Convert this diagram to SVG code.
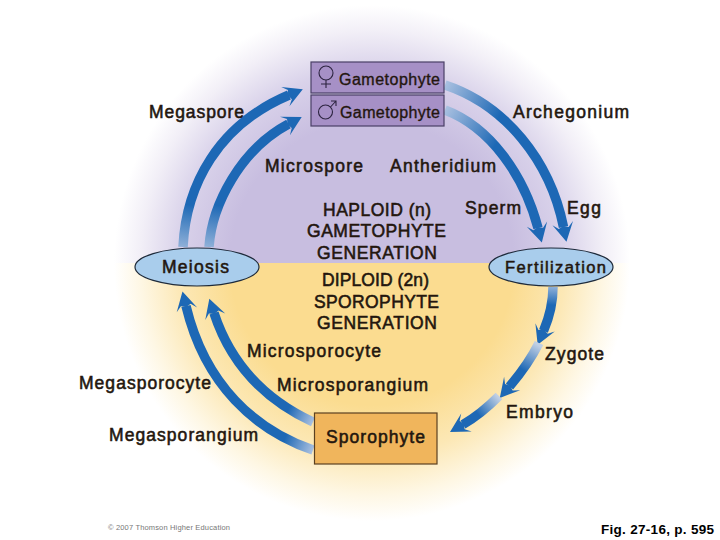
<svg xmlns="http://www.w3.org/2000/svg" width="720" height="540" viewBox="0 0 720 540">
<style>
text{font-family:"Liberation Sans",Arial,sans-serif;font-weight:normal;font-size:17.5px;fill:#23160e;stroke:#23160e;stroke-width:.55px}
.a{fill:none;stroke-width:9.5;marker-end:url(#head)}
.node{stroke:#1e2a3a;stroke-width:1.2;fill:#a9cdec}
.gbox{fill:#a690c6;stroke:#4a4066;stroke-width:1.2}
.sym{fill:none;stroke:#2c2440;stroke-width:1.1}
</style>
<defs>
<radialGradient id="pur" gradientUnits="userSpaceOnUse" cx="372" cy="263" r="258">
<stop offset="0" stop-color="#c8bee0"/><stop offset="0.55" stop-color="#c8bee0"/><stop offset="0.75" stop-color="#d9d2ea"/><stop offset="0.9" stop-color="#f2eff7"/><stop offset="1" stop-color="#fff"/>
</radialGradient>
<radialGradient id="yel" gradientUnits="userSpaceOnUse" cx="372" cy="263" r="258">
<stop offset="0" stop-color="#fbdc90"/><stop offset="0.55" stop-color="#fbdc90"/><stop offset="0.75" stop-color="#fce8b6"/><stop offset="0.9" stop-color="#fef7e4"/><stop offset="1" stop-color="#fff"/>
</radialGradient>
<marker id="head" markerUnits="userSpaceOnUse" markerWidth="30" markerHeight="30" viewBox="-6 -15 30 30" refX="0" refY="0" orient="auto">
<polygon points="-4,-10.500 15,0 -4,10.500 1,5 -1,0 1,-5" fill="#1d68b5"/>
</marker>
<linearGradient id="g1" gradientUnits="userSpaceOnUse" x1="183" y1="247" x2="190" y2="205"><stop offset="0" stop-color="#8fb0d8"/><stop offset="1" stop-color="#1d68b5"/></linearGradient>
<linearGradient id="g2" gradientUnits="userSpaceOnUse" x1="209" y1="247" x2="216" y2="205"><stop offset="0" stop-color="#8fb0d8"/><stop offset="1" stop-color="#1d68b5"/></linearGradient>
<linearGradient id="g3" gradientUnits="userSpaceOnUse" x1="445" y1="85" x2="500" y2="115"><stop offset="0" stop-color="#a9c0e0"/><stop offset="1" stop-color="#1d68b5"/></linearGradient>
<linearGradient id="g4" gradientUnits="userSpaceOnUse" x1="445" y1="110" x2="497" y2="143"><stop offset="0" stop-color="#a9c0e0"/><stop offset="1" stop-color="#1d68b5"/></linearGradient>
<linearGradient id="g5" gradientUnits="userSpaceOnUse" x1="553" y1="287" x2="552" y2="305"><stop offset="0" stop-color="#8fb0d8"/><stop offset="1" stop-color="#1d68b5"/></linearGradient>
<linearGradient id="g6" gradientUnits="userSpaceOnUse" x1="538" y1="345" x2="523" y2="370"><stop offset="0" stop-color="#c0cfe4"/><stop offset="1" stop-color="#1d68b5"/></linearGradient>
<linearGradient id="g7" gradientUnits="userSpaceOnUse" x1="498" y1="397" x2="478" y2="414"><stop offset="0" stop-color="#c0cfe4"/><stop offset="1" stop-color="#1d68b5"/></linearGradient>
<linearGradient id="g8" gradientUnits="userSpaceOnUse" x1="313" y1="450" x2="285" y2="438"><stop offset="0" stop-color="#a9c0e0"/><stop offset="1" stop-color="#1d68b5"/></linearGradient>
<linearGradient id="g9" gradientUnits="userSpaceOnUse" x1="313" y1="422" x2="288" y2="410"><stop offset="0" stop-color="#a9c0e0"/><stop offset="1" stop-color="#1d68b5"/></linearGradient>
</defs>

<rect id="haploid-zone" x="0" y="0" width="720" height="263" fill="url(#pur)"/>
<rect id="diploid-zone" x="0" y="263" width="720" height="277" fill="url(#yel)"/>

<g id="connectors">
<path class="a" stroke="url(#g1)" d="M183,247C186,185 218,125 289,95"/>
<path class="a" stroke="url(#g2)" d="M209,247C212,205 240,150 288.500,124"/>
<path class="a" stroke="url(#g3)" d="M445,85C505,105 550,160 563.500,227"/>
<path class="a" stroke="url(#g4)" d="M445,110C490,127 524,175 538,228"/>
<path class="a" stroke="url(#g5)" d="M553,287C553,305 549,318 543.500,331"/>
<path class="a" stroke="url(#g6)" d="M539,343C531,359 521,373 509.500,386.500"/>
<path class="a" stroke="url(#g7)" d="M499,396C487,408 476,417 463,424.500"/>
<path class="a" stroke="url(#g8)" d="M313,450C255,430 205,385 186,306"/>
<path class="a" stroke="url(#g9)" d="M313,422C270,402 232,368 214,313"/>
</g>

<g id="female-gametophyte">
<rect class="gbox" x="311" y="62" width="133" height="31"/>
<circle class="sym" cx="326" cy="73" r="7"/>
<path class="sym" d="M326,80V88M321,84H331"/>
<text x="339" y="85" textLength="101" style="font-size:16px;stroke-width:.35px">Gametophyte</text>
</g>
<g id="male-gametophyte">
<rect class="gbox" x="311" y="95" width="133" height="31"/>
<circle class="sym" cx="325.500" cy="112" r="7"/>
<path class="sym" d="M330.500,107L336,101M331,101H336V106"/>
<text x="340" y="118" textLength="100" style="font-size:16px;stroke-width:.35px">Gametophyte</text>
</g>
<g id="meiosis">
<ellipse class="node" cx="197" cy="267" rx="62" ry="19"/>
<text x="162" y="273" textLength="67">Meiosis</text>
</g>
<g id="fertilization">
<ellipse class="node" cx="551" cy="267" rx="62" ry="19"/>
<text x="505" y="273" textLength="101" style="font-size:16.500px">Fertilization</text>
</g>
<g id="sporophyte">
<rect x="314.500" y="413" width="122.500" height="51" fill="#f0b55c" stroke="#5a4020" stroke-width="1.2"/>
<text x="326" y="443" textLength="99">Sporophyte</text>
</g>

<g id="labels">
<text x="149" y="118" textLength="95">Megaspore</text>
<text x="513" y="118" textLength="116">Archegonium</text>
<text x="265" y="172" textLength="98">Microspore</text>
<text x="390" y="172" textLength="106">Antheridium</text>
<text x="323" y="216" textLength="108">HAPLOID (n)</text>
<text x="307" y="237" textLength="139">GAMETOPHYTE</text>
<text x="317" y="259" textLength="120">GENERATION</text>
<text x="465" y="214" textLength="56">Sperm</text>
<text x="567" y="214" textLength="34">Egg</text>
<text x="322" y="286" textLength="107">DIPLOID (2n)</text>
<text x="314" y="308" textLength="125">SPOROPHYTE</text>
<text x="317" y="329" textLength="120">GENERATION</text>
<text x="247" y="357" textLength="134">Microsporocyte</text>
<text x="545" y="360" textLength="59">Zygote</text>
<text x="79" y="389" textLength="132">Megasporocyte</text>
<text x="277" y="391" textLength="151">Microsporangium</text>
<text x="506" y="418" textLength="67">Embryo</text>
<text x="109" y="441" textLength="149">Megasporangium</text>
<text x="108" y="530" textLength="122" style="font-size:7.500px;stroke:none;fill:#777">© 2007 Thomson Higher Education</text>
<text x="601" y="534" textLength="113" style="font-size:13.500px;font-weight:bold;fill:#000;stroke:none">Fig. 27-16, p. 595</text>
</g>
</svg>
